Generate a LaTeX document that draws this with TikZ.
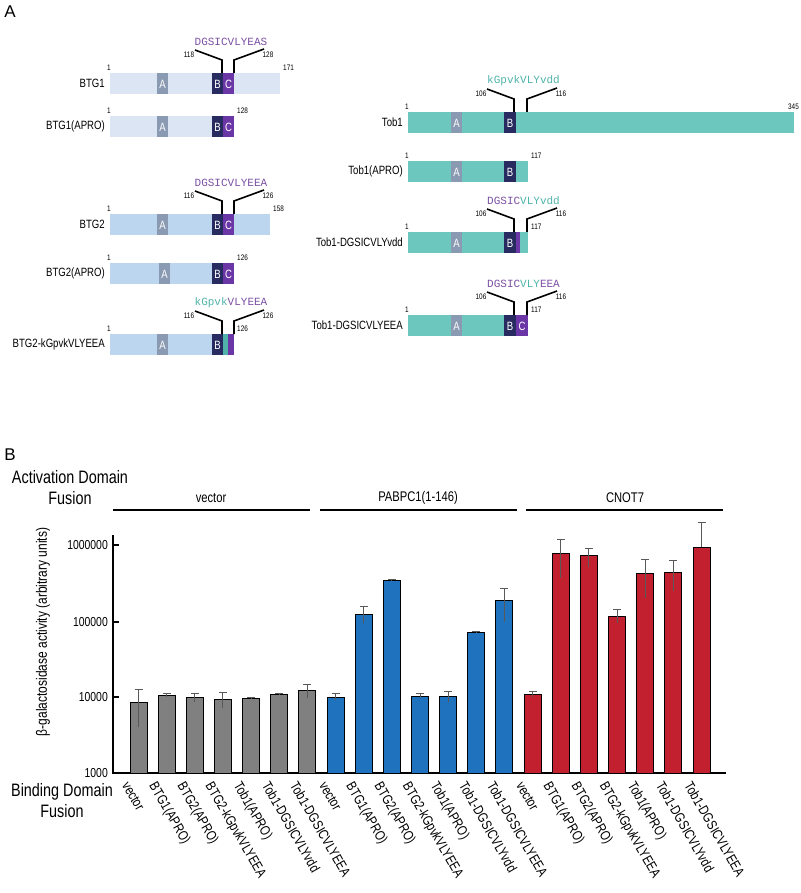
\documentclass[tikz,border=0pt]{standalone}
\usepackage{fontspec}
\setmainfont{Liberation Sans}
\newfontfamily\cond[FakeStretch=0.8]{Liberation Sans}
\newfontfamily\seqfont{Liberation Mono}
\definecolor{btgone}{HTML}{DCE5F4}
\definecolor{btgtwo}{HTML}{BBD6EE}
\definecolor{tobc}{HTML}{6CC8BF}
\definecolor{doma}{HTML}{8A9AB2}
\definecolor{domb}{HTML}{272B5F}
\definecolor{domc}{HTML}{6B36A6}
\definecolor{seqpur}{HTML}{7B4FA3}
\definecolor{seqteal}{HTML}{4FB3A9}
\definecolor{gbar}{HTML}{808080}
\definecolor{bbar}{HTML}{1F72BD}
\definecolor{rbar}{HTML}{C3202F}
\tikzset{
  lab/.style={font=\cond\fontsize{12}{12}\selectfont, inner sep=1pt},
  num/.style={font=\cond\fontsize{8}{8}\selectfont, inner sep=0pt},
  dom/.style={font=\cond\fontsize{12}{12}\selectfont, text=white, inner sep=0pt},
  leader/.style={line width=1.6pt},
  seq/.style={font=\seqfont\fontsize{11}{11}\selectfont, inner sep=0pt},
  big/.style={font=\cond\fontsize{18}{21}\selectfont, align=center, inner sep=0pt}
}
% protein bar: start x, name, top y, end x, colour, end number
\newcommand{\protein}[6]{%
  \fill[#5] (#1,#3) rectangle (#4,#3+21);
  \node[lab, anchor=east] at (#1-4,#3+10.5) {#2};
  \node[num] at (#1-1,#3-5) {1};
  \node[num, anchor=west] at (#4+3,#3-5) {#6};}
% domain box: x1, x2, top y, colour, letter
\newcommand{\domain}[5]{%
  \fill[#4] (#1,#3) rectangle (#2,#3+21);
  \node[dom] at ({(#1+#2)/2},#3+11) {#5};}
% leader lines: left x, right x, bar top y, left number, right number, sequence
\newcommand{\leader}[6]{%
  \draw[leader] (#1,#3) -- (#1,#3-13) -- (#1-27,#3-23);
  \draw[leader] (#2,#3) -- (#2,#3-13) -- (#2+30,#3-24);
  \node[num] at (#1-33,#3-18) {#4};
  \node[num] at (#2+34,#3-18) {#5};
  \node[seq] at ({(#1+#2)/2+3},#3-31) {#6};}
\begin{document}
\begin{tikzpicture}[x=1pt, y=-1pt]
\useasboundingbox (0,0) rectangle (800,893);

% Panel A
\node[font=\fontsize{17}{17}\selectfont] (panA) at (10,12) {A};

% BTG1 and BTG2 constructs
\protein{110}{BTG1}{73}{280}{btgone}{171}
\domain{157}{168}{73}{doma}{A}
\domain{212}{223}{73}{domb}{B}
\domain{223}{234}{73}{domc}{C}
\leader{222}{234}{73}{118}{128}{\textcolor{seqpur}{DGSICVLYEAS}}

\protein{110}{BTG1(APRO)}{116}{234}{btgone}{128}
\domain{157}{168}{116}{doma}{A}
\domain{212}{223}{116}{domb}{B}
\domain{223}{234}{116}{domc}{C}

\protein{110}{BTG2}{214}{270}{btgtwo}{158}
\domain{157}{168}{214}{doma}{A}
\domain{212}{223}{214}{domb}{B}
\domain{223}{234}{214}{domc}{C}
\leader{222}{234}{214}{116}{126}{\textcolor{seqpur}{DGSICVLYEEA}}

\protein{110}{BTG2(APRO)}{263}{234}{btgtwo}{126}
\domain{159}{170}{263}{doma}{A}
\domain{212}{223}{263}{domb}{B}
\domain{223}{234}{263}{domc}{C}

\protein{110}{BTG2-kGpvkVLYEEA}{334}{234}{btgtwo}{126}
\domain{157}{168}{334}{doma}{A}
\domain{212}{223}{334}{domb}{B}
\fill[seqteal] (223,334) rectangle (228,355);
\fill[domc] (228,334) rectangle (234,355);
\leader{222}{234}{334}{116}{126}{\textcolor{seqteal}{kGpvk}\textcolor{seqpur}{VLYEEA}}

% Tob1 constructs
\protein{408}{Tob1}{112}{794}{tobc}{}
\node[num, anchor=east] at (799,107) {345};
\domain{451}{462}{112}{doma}{A}
\domain{504}{516}{112}{domb}{B}
\leader{514}{527}{112}{106}{116}{\textcolor{seqteal}{kGpvkVLYvdd}}

\protein{408}{Tob1(APRO)}{161}{528}{tobc}{117}
\domain{451}{462}{161}{doma}{A}
\domain{504}{516}{161}{domb}{B}

\protein{408}{Tob1-DGSICVLYvdd}{232}{528}{tobc}{117}
\domain{451}{462}{232}{doma}{A}
\domain{504}{516}{232}{domb}{B}
\fill[domc] (516,232) rectangle (520,253);
\leader{514}{527}{232}{106}{116}{\textcolor{seqpur}{DGSIC}\textcolor{seqteal}{VLYvdd}}

\protein{408}{Tob1-DGSICVLYEEA}{315}{528}{tobc}{117}
\domain{451}{462}{315}{doma}{A}
\domain{504}{516}{315}{domb}{B}
\domain{516}{528}{315}{domc}{C}
\leader{514}{527}{315}{106}{116}{\textcolor{seqpur}{DGSIC}\textcolor{seqteal}{VLY}\textcolor{seqpur}{EEA}}

% Panel B
\node[font=\fontsize{17}{17}\selectfont] (panB) at (10,455) {B};
\node[big] (adf) at (70,488) {Activation Domain\\Fusion};
\node[big] (bdf) at (62,801) {Binding Domain\\Fusion};

% group headers
\draw[line width=1.4pt] (113,510) -- (310,510);
\draw[line width=1.4pt] (320,510) -- (517,510);
\draw[line width=1.4pt] (526,510) -- (723,510);
\node[lab, font=\cond\fontsize{14}{14}\selectfont] (gvec) at (211,498) {vector};
\node[lab, font=\cond\fontsize{14}{14}\selectfont] (gpab) at (418,498) {PABPC1(1-146)};
\node[lab, font=\cond\fontsize{14}{14}\selectfont] (gcnot) at (625,498) {CNOT7};

% axes
\draw[line width=1.2pt] (113,535) -- (113,773) -- (726,773);
\foreach \y/\t in {545/1000000, 622/100000, 697/10000, 773/1000} {
  \draw[line width=1.2pt] (113,\y) -- (119,\y);
  \node[num, font=\cond\fontsize{13}{13}\selectfont, anchor=east] at (108,\y) {\t};
}
\node[lab, rotate=90, font=\cond\fontsize{15}{15}\selectfont] (ylab) at (43,632) {β-galactosidase activity (arbitrary units)};

% bars: index/top/error top/error bottom/colour
\foreach \i/\top/\eu/\el/\col in {0/702/689/727/gbar, 1/695/693/697/gbar, 2/697/693/702/gbar,
  3/699/692/708/gbar, 4/698/697/699/gbar, 5/694/693/695/gbar, 6/690/684/698/gbar,
  7/697/693/700/bbar, 8/614/606/623/bbar, 9/580/579/581/bbar, 10/696/693/698/bbar,
  11/696/691/702/bbar, 12/632/631/633/bbar, 13/600/588/622/bbar,
  14/694/691/697/rbar, 15/553/539/578/rbar, 16/555/548/567/rbar, 17/616/609/623/rbar,
  18/573/559/598/rbar, 19/572/560/591/rbar, 20/547/522/547/rbar} {
  \pgfmathsetmacro{\cx}{138.5+28.15*\i}
  \draw[fill=\col, line width=1pt] (\cx-8.5,773) rectangle (\cx+8.5,\top);
  \draw[black!65, line width=1pt] (\cx,\el) -- (\cx,\eu);
  \draw[black!65, line width=1pt] (\cx-4,\eu) -- (\cx+4,\eu);
}

% binding domain labels
\foreach \g in {0,1,2} {
  \foreach \j/\t in {0/vector, 1/BTG1(APRO), 2/BTG2(APRO), 3/BTG2-kGpvkVLYEEA,
    4/Tob1(APRO), 5/Tob1-DGSICVLYvdd, 6/Tob1-DGSICVLYEEA} {
    \pgfmathsetmacro{\cx}{130+28.15*(7*\g+\j)}
    \node[lab, font=\cond\fontsize{14}{14}\selectfont, rotate=-60, anchor=north west] at (\cx,779) {\t};
  }
}
\end{tikzpicture}
\end{document}
